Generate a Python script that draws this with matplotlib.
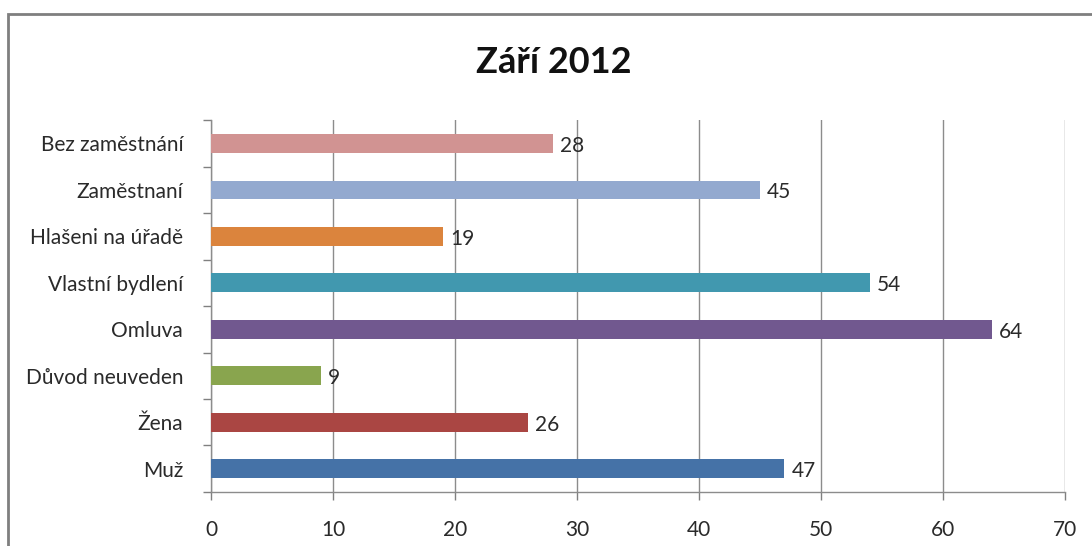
import numpy as np
import matplotlib.pyplot as plt
from matplotlib.patches import Rectangle

# data (bottom to top)
categories = ["Muž", "Žena", "Důvod neuveden", "Omluva",
              "Vlastní bydlení", "Hlašeni na úřadě", "Zaměstnaní", "Bez zaměstnání"]
values = [47, 26, 9, 64, 54, 19, 45, 28]
colors = ["#4572A7", "#AA4643", "#89A54E", "#71588F",
          "#4198AF", "#DB843D", "#93A9CF", "#D19392"]
x_ticks = [0, 10, 20, 30, 40, 50, 60, 70]

plt.rcParams['font.family'] = ['Lato', 'DejaVu Sans']

fig = plt.figure(figsize=(10.92, 5.46), dpi=100)
ax = fig.add_axes([0.1932, 0.099, 0.782, 0.681])

# outer chart frame
fig.patches.append(Rectangle((8 / 1092, -0.1), 1.2, 1 - 14 / 546 + 0.1,
                             transform=fig.transFigure, fill=False,
                             edgecolor="#7f7f7f", linewidth=2))

y = np.arange(len(categories))
ax.barh(y, values, height=0.4, color=colors, zorder=3)

for yi, v in zip(y, values):
    ax.text(v + 0.6, yi - 0.05, str(v), va="center", ha="left", fontsize=15,
            color="#2a2a2a", zorder=4)

ax.set_xlim(0, 70)
ax.set_ylim(-0.5, len(categories) - 0.5)
ax.set_xticks(x_ticks)
ax.set_xticklabels([str(t) for t in x_ticks], fontsize=15, color="#2a2a2a")
ax.set_yticks(y)
ax.set_yticklabels(categories, fontsize=15, color="#2a2a2a")
ax.tick_params(axis="y", length=0, pad=20)
ax.set_yticks(np.arange(-0.5, len(categories)), minor=True)
ax.tick_params(axis="y", which="minor", length=6, color="#808080", width=1)
ax.tick_params(axis="x", length=6, color="#808080", width=1, pad=14)

ax.grid(axis="x", color="#8c8c8c", linewidth=1, zorder=0)
for s in ["top", "right"]:
    ax.spines[s].set_visible(False)
for s in ["left", "bottom"]:
    ax.spines[s].set_color("#8c8c8c")
    ax.spines[s].set_linewidth(1)

fig.text(554 / 1092, 0.886, "Září 2012", ha="center", va="center",
         fontsize=26, fontweight="bold", color="#111111")

fig.savefig("out.png", dpi=100)
